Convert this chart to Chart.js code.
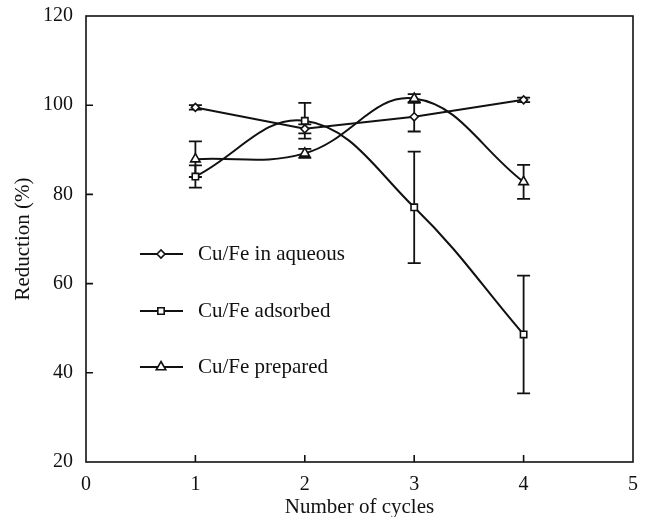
<!DOCTYPE html>
<html>
<head>
<meta charset="utf-8">
<script src="https://cdn.jsdelivr.net/npm/chart.js@4.4.1/dist/chart.umd.min.js"></script>
<style>
  html, body { margin: 0; padding: 0; background: #fff; }
  canvas { display: block; }
</style>
</head>
<body>
<canvas id="cycleChart" width="648" height="517"></canvas>
<script>
// reduction (%) per reuse cycle
var cycles = [1, 2, 3, 4];
var aqueous = [99.5, 94.7, 97.4, 101.2];
var aqueousErr = [0.5, 1.0, 3.3, 0.5];
var adsorbed = [84.0, 96.5, 77.1, 48.6];
var adsorbedErr = [2.5, 4.0, 12.5, 13.2];
var prepared = [87.9, 89.2, 101.5, 82.8];
var preparedErr = [4.0, 1.0, 1.0, 3.8];

var xTicks = [0, 1, 2, 3, 4, 5];
var yTicks = [20, 40, 60, 80, 100, 120];

var seriesNames = ["Cu/Fe in aqueous", "Cu/Fe adsorbed", "Cu/Fe prepared"];
var FONT = "'Liberation Serif', 'Times New Roman', serif";
var INK = "#111";

function pts(vals) {
  return cycles.map(function (c, i) { return { x: c, y: vals[i] }; });
}

// frame, inward ticks, error bars and in-plot legend
var extras = {
  id: "extras",
  beforeDatasetsDraw: function (chart) {
    var ctx = chart.ctx, xs = chart.scales.x, ys = chart.scales.y;
    var errs = [aqueousErr, adsorbedErr, preparedErr];
    ctx.save();
    ctx.strokeStyle = INK;
    ctx.lineWidth = 1.8;
    chart.data.datasets.forEach(function (ds, d) {
      ds.data.forEach(function (p, i) {
        var e = errs[d][i];
        var x = xs.getPixelForValue(p.x);
        var y1 = ys.getPixelForValue(p.y + e);
        var y2 = ys.getPixelForValue(p.y - e);
        ctx.beginPath();
        ctx.moveTo(x, y1); ctx.lineTo(x, y2);
        ctx.moveTo(x - 6.5, y1); ctx.lineTo(x + 6.5, y1);
        ctx.moveTo(x - 6.5, y2); ctx.lineTo(x + 6.5, y2);
        ctx.stroke();
      });
    });
    ctx.restore();
  },
  afterDraw: function (chart) {
    var ctx = chart.ctx, a = chart.chartArea, xs = chart.scales.x, ys = chart.scales.y;
    ctx.save();
    ctx.strokeStyle = INK;
    ctx.lineWidth = 1.6;
    ctx.strokeRect(a.left, a.top, a.right - a.left, a.bottom - a.top);
    ctx.beginPath();
    xTicks.slice(1, -1).forEach(function (v) {
      var x = xs.getPixelForValue(v);
      ctx.moveTo(x, a.bottom); ctx.lineTo(x, a.bottom - 7);
    });
    yTicks.slice(1, -1).forEach(function (v) {
      var y = ys.getPixelForValue(v);
      ctx.moveTo(a.left, y); ctx.lineTo(a.left + 7, y);
    });
    ctx.stroke();

    // legend
    var rows = [254, 311, 367];
    chart.data.datasets.forEach(function (ds, d) {
      var y = rows[d];
      ctx.strokeStyle = INK;
      ctx.lineWidth = 1.9;
      ctx.beginPath();
      ctx.moveTo(140, y); ctx.lineTo(183, y);
      ctx.stroke();
      ctx.fillStyle = "#fff";
      ctx.lineWidth = ds.pointBorderWidth;
      Chart.helpers.drawPoint(ctx, {
        pointStyle: ds.pointStyle, radius: ds.pointRadius,
        borderWidth: ds.pointBorderWidth, rotation: 0
      }, 161, y);
      ctx.fillStyle = INK;
      ctx.font = "21px " + FONT;
      ctx.textBaseline = "middle";
      ctx.fillText(seriesNames[d], 198, y);
    });
    ctx.restore();
  }
};

function series(name, vals, style, radius, tension) {
  return {
    label: name,
    data: pts(vals),
    borderColor: INK,
    borderWidth: 2,
    backgroundColor: "#fff",
    pointStyle: style,
    pointRadius: radius,
    pointBorderWidth: 1.6,
    pointBackgroundColor: "#fff",
    pointBorderColor: INK,
    tension: tension
  };
}

new Chart(document.getElementById("cycleChart"), {
  type: "line",
  data: {
    datasets: [
      series(seriesNames[0], aqueous, "rectRot", 4, 0),
      series(seriesNames[1], adsorbed, "rect", 4.5, 0.4),
      series(seriesNames[2], prepared, "triangle", 5.5, 0.4)
    ]
  },
  options: {
    responsive: false,
    animation: false,
    devicePixelRatio: 1,
    layout: { padding: { top: 16, right: 15, bottom: 0, left: 0 } },
    plugins: { legend: { display: false }, tooltip: { enabled: false } },
    scales: {
      x: {
        type: "linear",
        min: 0, max: 5,
        afterFit: function (s) { s.height = 55; s.paddingLeft = 0; s.paddingRight = 0; },
        afterBuildTicks: function (s) { s.ticks = xTicks.map(function (v) { return { value: v }; }); },
        grid: { display: false, drawTicks: false },
        border: { display: false },
        ticks: { color: INK, font: { family: FONT, size: 20 }, padding: 11, maxRotation: 0 },
        title: { display: true, text: "Number of cycles", color: INK, font: { family: FONT, size: 21 }, padding: { top: 0, bottom: -3 } }
      },
      y: {
        min: 20, max: 120,
        afterFit: function (s) { s.width = 86; s.paddingTop = 0; s.paddingBottom = 0; },
        afterBuildTicks: function (s) { s.ticks = yTicks.map(function (v) { return { value: v }; }); },
        grid: { display: false, drawTicks: false },
        border: { display: false },
        ticks: { color: INK, font: { family: FONT, size: 20 }, padding: 13 },
        title: { display: true, text: "Reduction (%)", color: INK, font: { family: FONT, size: 21 }, padding: { top: 11, bottom: 0 } }
      }
    }
  },
  plugins: [extras]
});
</script>
</body>
</html>
